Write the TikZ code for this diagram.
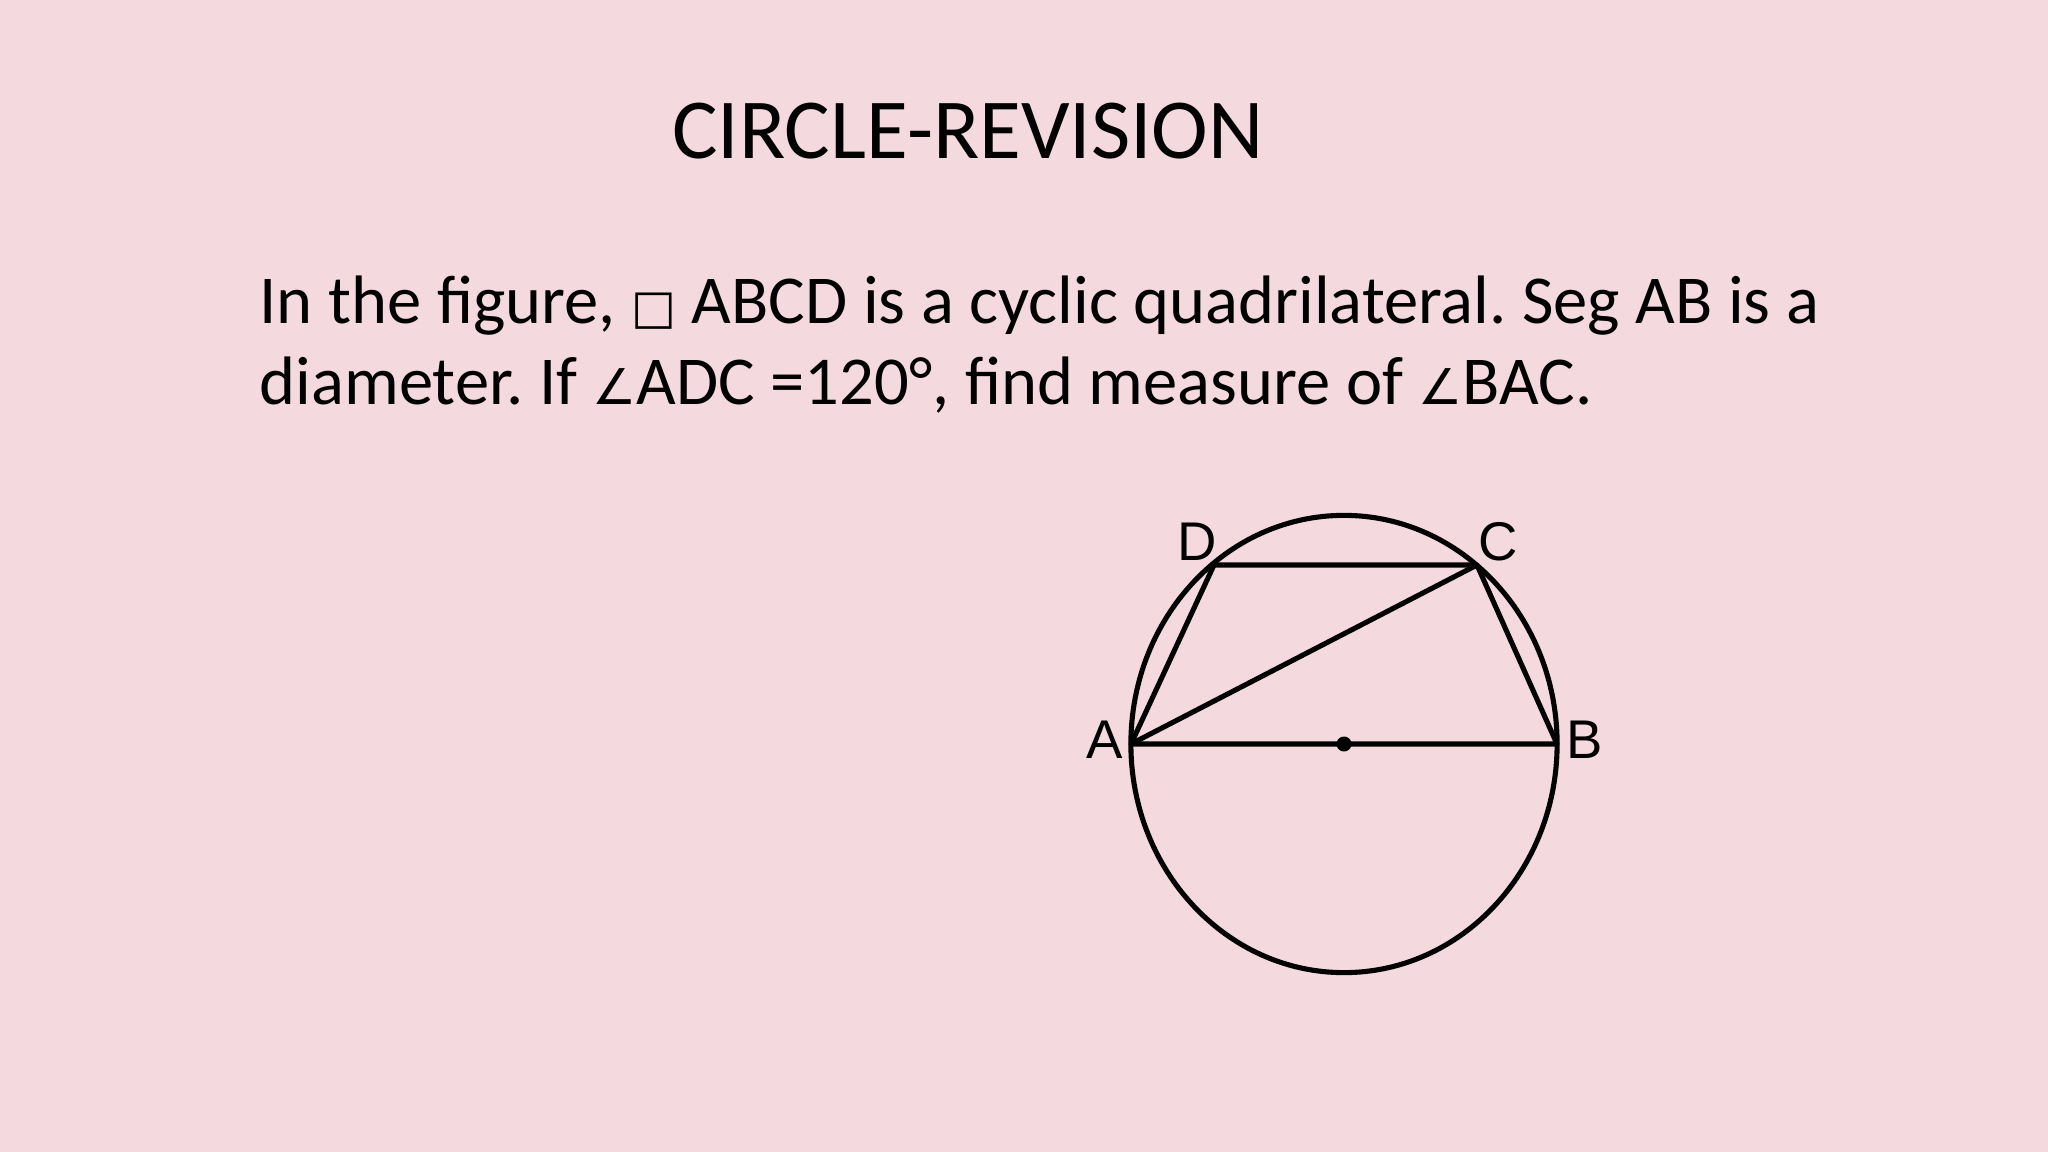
\documentclass[tikz,border=0pt]{standalone}
\usepackage{fontspec}
\setmainfont{Carlito}
\newfontfamily\symfont{DejaVu Sans}
\newfontfamily\labelfont{Liberation Sans}
\definecolor{slidebg}{HTML}{F4DADE}

\tikzset{
    figline/.style={line width=1.45pt, line join=round},
    ptlabel/.style={font=\labelfont\fontsize{15.5}{17}\selectfont, inner sep=0pt},
    bodytext/.style={font=\fontsize{19.5}{24}\selectfont, inner sep=0pt, anchor=base west}
}
\newcommand{\angsym}{{\symfont\fontsize{14}{16}\selectfont ∠}}

\begin{document}
\frenchspacing
\begin{tikzpicture}[x=0.01cm, y=-0.01cm]
    \fill[slidebg] (0,0) rectangle (2048,1152);
    \useasboundingbox (0,0) rectangle (2048,1152);

    \node (title) [font=\fontsize{24.3}{28}\selectfont, inner sep=0pt, anchor=base] at (968,159) {CIRCLE-REVISION};

    \node (q1) [bodytext] at (259,324) {In the figure, {\symfont\fontsize{13.5}{14}\selectfont □} ABCD is a cyclic quadrilateral. Seg AB is a};
    \node (q2) [bodytext] at (259,405) {diameter. If \angsym ADC =120°, find measure of \angsym BAC.};

    % circle with diameter AB
    \coordinate (O) at (1344,744);
    \coordinate (A) at (1131,744);
    \coordinate (B) at (1557,744);
    \coordinate (C) at (1477,565);
    \coordinate (D) at (1214,565);

    \draw[figline] (O) ellipse [x radius=2.13cm, y radius=2.285cm];
    \draw[figline] (A) -- (B) -- (C) -- (D) -- cycle;
    \draw[figline] (A) -- (C);
    \fill (O) circle [radius=0.075cm];

    \node (la) [ptlabel] at (1105,740) {A};
    \node (lb) [ptlabel] at (1585,740) {B};
    \node (lc) [ptlabel] at (1498,542) {C};
    \node (ld) [ptlabel] at (1197,542) {D};
\end{tikzpicture}
\end{document}
